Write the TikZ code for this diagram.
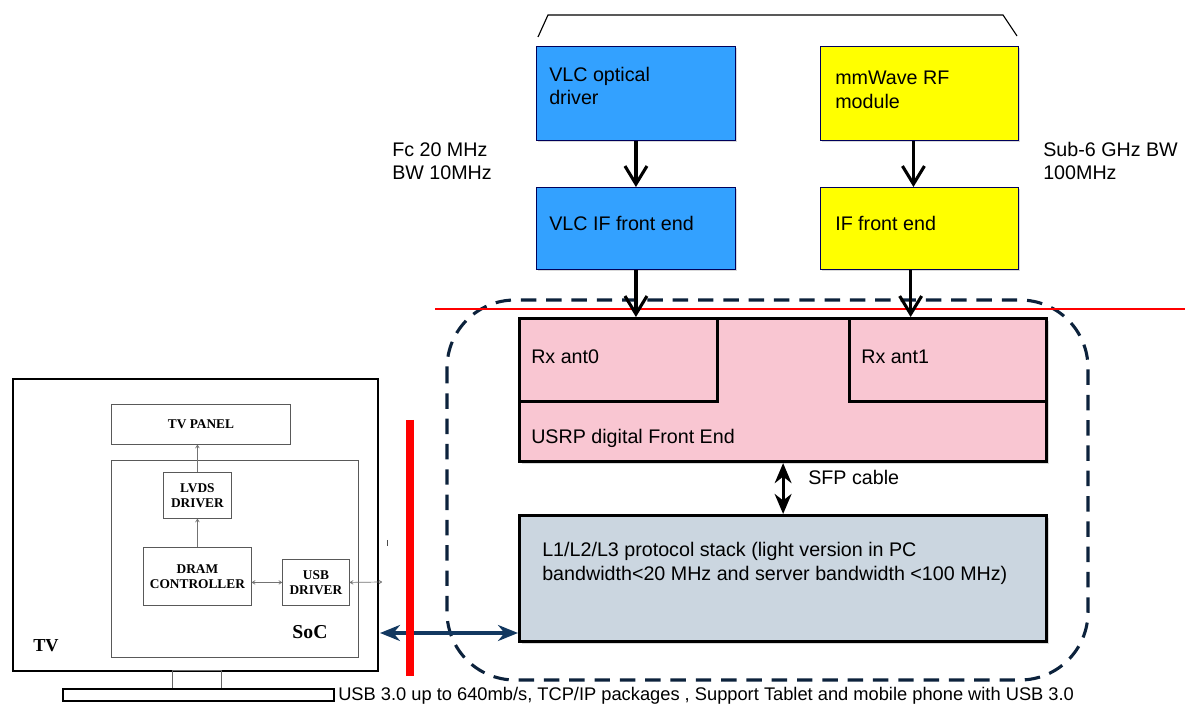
\documentclass[tikz,border=0pt]{standalone}
\usepackage{fontspec}
\setmainfont{Liberation Sans}
\newfontfamily\tvfont{Liberation Serif}
\usetikzlibrary{arrows.meta,shadows}

\definecolor{vlcblue}{RGB}{51,161,255}
\definecolor{rfyellow}{RGB}{255,255,0}
\definecolor{usrppink}{RGB}{249,198,210}
\definecolor{stackgray}{RGB}{203,214,224}
\definecolor{linknavy}{RGB}{18,56,96}
\definecolor{ringnavy}{RGB}{12,34,60}

\begin{document}
\begin{tikzpicture}[x=0.025cm,y=-0.025cm,
    every node/.style={font=\fontsize{14}{17}\selectfont},
    lbl/.style={anchor=west,align=left,inner sep=0pt},
    srcbox/.style={draw=blue!35!black,line width=0.6pt,anchor=north west,inner sep=0pt,
        drop shadow={shadow xshift=1.2pt,shadow yshift=-1.2pt,opacity=0.3}},
    usrpbox/.style={draw=black,line width=2.2pt,anchor=north west,inner sep=0pt},
    fatarrow/.style={line width=2.2pt,-{Straight Barb[length=0.45cm,width=0.55cm]}},
    tvbox/.style={draw=black!65,line width=0.6pt,inner sep=0pt,align=center,
        font=\tvfont\bfseries\fontsize{9.5}{10.5}\selectfont},
    tvarrow/.style={draw=black!55,line width=0.5pt,-{To[length=2.5pt,width=3pt]}},
    tvlink/.style={draw=black!55,line width=0.5pt,{To[length=2.5pt,width=3pt]}-{To[length=2.5pt,width=3pt]}}]
    \useasboundingbox (0,0) rectangle (1185,707);

    % Sources
    \draw[black,line width=0.8pt] (538,37) -- (548,15) -- (1003,15) -- (1017,36);
    \node[srcbox,fill=vlcblue,minimum width=4.975cm,minimum height=2.35cm] (vlcdrv) at (536,46) {};
    \node[srcbox,fill=rfyellow,minimum width=4.95cm,minimum height=2.35cm] (mmw) at (820,46) {};
    \node[srcbox,fill=vlcblue,minimum width=4.975cm,minimum height=2.05cm] (vlcif) at (536,187) {};
    \node[srcbox,fill=rfyellow,minimum width=4.95cm,minimum height=2.05cm] (rfif) at (820,187) {};
    \node[lbl] (vlcdrvtxt) at (549,86) {VLC optical\\driver};
    \node[lbl] (mmwtxt) at (835,90) {mmWave RF\\module};
    \node[lbl] (vlciftxt) at (549,223) {VLC IF front end};
    \node[lbl] (rfiftxt) at (835,223) {IF front end};
    \node[lbl,font=\fontsize{14}{16.5}\selectfont] (fcnote) at (392,161) {Fc 20 MHz\\BW 10MHz};
    \node[lbl,font=\fontsize{14}{16.5}\selectfont] (subnote) at (1043,161) {Sub-6 GHz BW\\100MHz};

    % Receiver side
    \draw[ringnavy,line width=2.2pt,dash pattern=on 11pt off 7pt,rounded corners=1.7cm]
        (447,300) rectangle (1088,680);
    \draw[red,line width=0.8pt] (435,309) -- (1185,309);
    \node[usrpbox,fill=usrppink,minimum width=13.175cm,minimum height=3.575cm,
        drop shadow={shadow xshift=1.5pt,shadow yshift=-1.5pt,opacity=0.3}] (usrp) at (518,317) {};
    \node[usrpbox,minimum width=4.95cm,minimum height=2.075cm] (rx0) at (518,317) {};
    \node[usrpbox,minimum width=4.925cm,minimum height=2.075cm] (rx1) at (848,317) {};
    \node[usrpbox,fill=stackgray,minimum width=13.175cm,minimum height=3.15cm,
        drop shadow={shadow xshift=1.5pt,shadow yshift=-1.5pt,opacity=0.3}] (stack) at (518,514) {};
    \node[lbl] (rx0txt) at (531,357) {Rx ant0};
    \node[lbl] (rx1txt) at (861,357) {Rx ant1};
    \node[lbl] (usrptxt) at (531,438) {USRP digital Front End};
    \node[lbl] (sfptxt) at (808,477) {SFP cable};
    \node[lbl] (stacktxt) at (542,563)
        {L1/L2/L3 protocol stack (light version in PC\\bandwidth<20 MHz and server bandwidth <100 MHz)};

    \draw[fatarrow] (vlcdrv.south) -- (vlcif.north);
    \draw[fatarrow] ([xshift=-0.15cm]mmw.south) -- ([xshift=-0.15cm]rfif.north);
    \draw[fatarrow] (vlcif.south) -- (vlcif.south |- usrp.north);
    \draw[fatarrow] ([xshift=-0.22cm]rfif.south) -- ([xshift=-0.22cm]rfif.south |- usrp.north);
    \draw[line width=2.2pt,{Stealth[length=0.5cm,width=0.42cm]}-{Stealth[length=0.5cm,width=0.42cm]}]
        (usrp.south) -- (stack.north);

    % TV set
    \node[draw=black,line width=1.1pt,anchor=north west,inner sep=0pt,
        minimum width=9.125cm,minimum height=7.3cm] (tv) at (12,378) {};
    \node[tvbox,anchor=north west,minimum width=4.475cm,minimum height=1cm] (panel) at (111,404) {TV PANEL};
    \node[tvbox,anchor=north west,minimum width=6.175cm,minimum height=4.925cm] (soc) at (111,460) {};
    \node[tvbox,anchor=north west,minimum width=1.7cm,minimum height=1.15cm] (lvds) at (163,472) {LVDS\\DRIVER};
    \node[tvbox,anchor=north west,minimum width=2.7cm,minimum height=1.45cm] (dram) at (143,547) {DRAM\\CONTROLLER};
    \node[tvbox,anchor=north west,minimum width=1.675cm,minimum height=1.15cm] (usbdrv) at (282,559) {USB\\DRIVER};
    \node[inner sep=0pt,font=\tvfont\bfseries\fontsize{14}{14}\selectfont] (soctxt) at (310,632) {SoC};
    \node[inner sep=0pt,font=\tvfont\bfseries\fontsize{13}{13}\selectfont] (tvtxt) at (46,646) {TV};
    \node[draw=black!60,line width=0.6pt,anchor=north,inner sep=0pt,
        minimum width=1.225cm,minimum height=0.45cm] (neck) at (197,670) {};
    \node[draw=black,line width=1.3pt,anchor=north west,inner sep=0pt,
        minimum width=6.775cm,minimum height=0.3cm] (stand) at (62,688) {};
    \coordinate (usbport) at (382,582);

    \draw[tvarrow] (dram.north) -- (lvds.south);
    \draw[tvarrow] (lvds.north) -- (lvds.north |- panel.south);
    \draw[tvlink] (dram.east |- usbdrv.west) -- (usbdrv.west);
    \draw[tvlink] (usbdrv.east) -- (usbport);

    % Link to the receiver
    \coordinate (tvlinkend) at (380,633);
    \draw[linknavy,line width=2.4pt,{Stealth[length=0.5cm,width=0.4cm]}-{Stealth[length=0.5cm,width=0.4cm]}]
        (tvlinkend) -- (stack.west |- tvlinkend);
    \draw[red,line width=0.2cm] (410,420) -- (410,676);
    \draw[black!70,line width=0.6pt] (387,540) -- (387,546);
    \node[lbl,font=\fontsize{13}{15}\selectfont] (usbnote) at (338,696)
        {USB 3.0 up to 640mb/s, TCP/IP packages , Support Tablet and mobile phone with USB 3.0};
\end{tikzpicture}
\end{document}
